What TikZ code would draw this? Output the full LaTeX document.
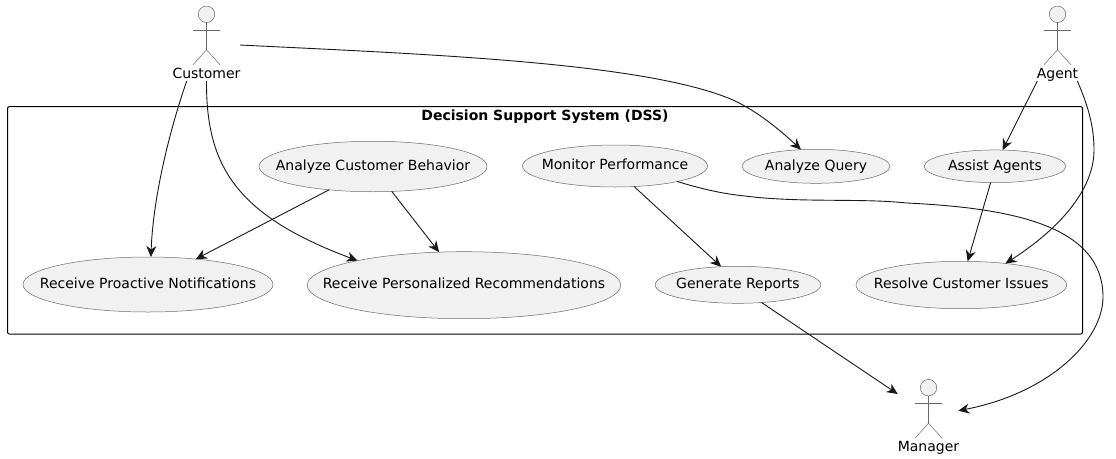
\documentclass[tikz,border=0pt]{standalone}
\usepackage{fontspec}
\setmainfont{DejaVu Sans}
\usetikzlibrary{arrows.meta,shapes.geometric,calc}
\definecolor{ucfill}{HTML}{F1F1F1}
\definecolor{ucline}{HTML}{181818}
\tikzset{
 x=1pt,y=-1pt,
 usecase/.style={ellipse,draw=ucline!65,fill=ucfill,line width=.5pt,inner xsep=-70pt,inner ysep=-20pt,outer sep=0pt,text height=10.5pt,text depth=3pt,font=\fontsize{14}{16}\selectfont},
 actorlabel/.style={inner sep=0pt,text height=10.5pt,text depth=3pt,font=\fontsize{14}{16}\selectfont},
 limb/.style={draw=ucline!65,line width=.5pt},
 head/.style={circle,draw=ucline!65,fill=ucfill,line width=.5pt,minimum size=16.5pt,inner sep=0pt},
 conn/.style={draw=ucline,line width=.9pt,-{Stealth[length=11pt,width=10pt,inset=3.5pt]}},
 frame/.style={draw=black,line width=1pt,rounded corners=2pt},
}
\newcommand{\actorfig}[4]{%
 \node[head] (#1) at (#2,#3) {};
 \draw[limb] (#1.south) -- ++(0,27) coordinate (#1hip);
 \draw[limb] ($(#1.south)+(-13.5,7.5)$) -- ++(27,0);
 \draw[limb] ($(#1hip)+(-13.5,15)$) -- (#1hip) -- ++(13.5,15);
 \node[actorlabel] (#1label) at (#2,#3+60.5) {#4};
}
\begin{document}
\begin{tikzpicture}
\useasboundingbox (0,0) rectangle (1116,458);
\node[frame,minimum width=1075pt,minimum height=227.5pt,inner sep=0pt] (dss) at (545,220.3) {};
\node[inner sep=0pt,text height=10.5pt,text depth=3pt,font=\bfseries\fontsize{14}{16}\selectfont] (dsstitle) at (545,116.5) {Decision Support System (DSS)};
\actorfig{cust}{206.5}{14.3}{Customer}
\actorfig{agent}{1057.5}{14.3}{Agent}
\actorfig{mgr}{928.5}{387.7}{Manager}
\node[usecase,minimum width=228pt,minimum height=50.5pt] (behavior) at (373,166.5) {Analyze Customer Behavior};
\node[usecase,minimum width=185pt,minimum height=42pt] (monitor) at (615,166) {Monitor Performance};
\node[usecase,minimum width=148pt,minimum height=34pt] (query) at (816,166.3) {Analyze Query};
\node[usecase,minimum width=141.7pt,minimum height=32.7pt] (assist) at (995,166.3) {Assist Agents};
\node[usecase,minimum width=250pt,minimum height=55pt] (proactive) at (148,284.5) {Receive Proactive Notifications};
\node[usecase,minimum width=313.5pt,minimum height=67pt] (personal) at (464,285.2) {Receive Personalized Recommendations};
\node[usecase,minimum width=165.7pt,minimum height=37pt] (reports) at (738,284.8) {Generate Reports};
\node[usecase,minimum width=210.7pt,minimum height=47.4pt] (resolve) at (961.3,285) {Resolve Customer Issues};
\coordinate (custout) at (240,45);
\coordinate (custa) at (186.7,81);
\coordinate (custb) at (206.5,81);
\coordinate (agenta) at (1037.3,81);
\coordinate (agentb) at (1077.3,81);
\coordinate (mgra) at (897.7,394);
\coordinate (mgrb) at (958.3,410.7);
\draw[conn] (custout) .. controls (420,54) and (645,62) .. (733,100) .. controls (757,111) and (780,130) .. (query.132);
\draw[conn] (custa) .. controls (168,135) and (153,200) .. (proactive.84.4);
\draw[conn] (custb) .. controls (206,165) and (235,215) .. (personal.167.4);
\draw[conn] (agenta) -- (assist.65.9);
\draw[conn] (agentb) .. controls (1090,110) and (1094,130) .. (1094,150) .. controls (1094,195) and (1050,235) .. (resolve.26.4);
\draw[conn] (assist.255.6) -- (resolve.75.8);
\draw[conn] (behavior.208) -- (proactive.28.2);
\draw[conn] (behavior.307.3) -- (personal.127.7);
\draw[conn] (monitor.313.6) -- (reports.133.9);
\draw[conn] (reports.323.5) -- (mgra);
\draw[conn] (monitor.346.7) .. controls (705,190) and (725,194) .. (745,196) .. controls (800,203) and (860,198) .. (907,203) .. controls (1010,208) and (1103,225) .. (1103,297) .. controls (1103,340) and (1050,393) .. (mgrb);
\end{tikzpicture}
\end{document}
